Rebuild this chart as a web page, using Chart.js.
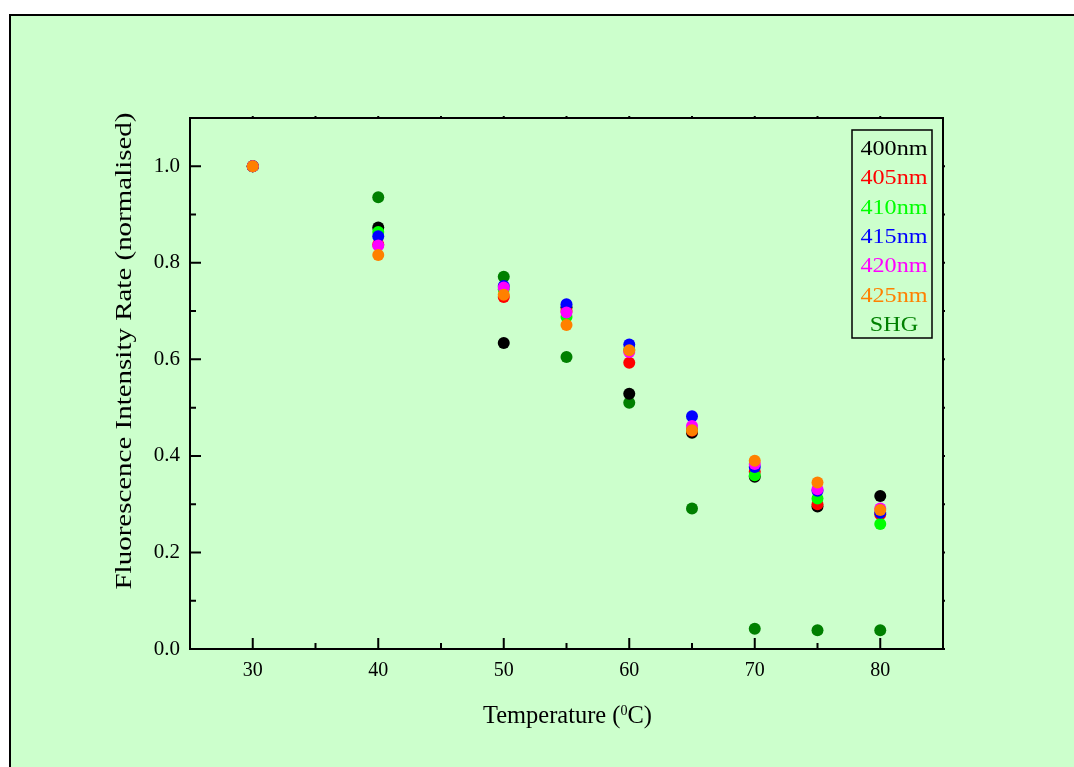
<!DOCTYPE html>
<html>
<head>
<meta charset="utf-8">
<script src="https://cdn.jsdelivr.net/npm/chart.js@4/dist/chart.umd.min.js"></script>
<style>
  html, body { margin: 0; padding: 0; background: #ffffff; }
  canvas { display: block; }
</style>
</head>
<body>
<canvas id="c" width="1074" height="767"></canvas>
<script>
// ---- data ----
const temperatures = [30, 40, 50, 55, 60, 65, 70, 75, 80];
const nm400 = [1.000, 0.873, 0.634, 0.708, 0.529, 0.448, 0.357, 0.295, 0.317];
const nm405 = [1.000, 0.838, 0.729, 0.700, 0.593, 0.452, 0.367, 0.300, 0.279];
const nm410 = [1.000, 0.864, 0.745, 0.688, 0.620, 0.455, 0.360, 0.312, 0.259];
const nm415 = [1.000, 0.855, 0.752, 0.714, 0.631, 0.482, 0.377, 0.328, 0.282];
const nm420 = [1.000, 0.836, 0.749, 0.697, 0.615, 0.462, 0.383, 0.331, 0.291];
const nm425 = [1.000, 0.816, 0.734, 0.671, 0.619, 0.453, 0.390, 0.345, 0.288];
const shg   = [1.000, 0.936, 0.771, 0.605, 0.510, 0.291, 0.042, 0.039, 0.039];
const seriesLabels = ['400nm', '405nm', '410nm', '415nm', '420nm', '425nm', 'SHG'];
const seriesColors = ['#000000', '#ff0000', '#00ff00', '#0000ff', '#ff00ff', '#ff8000', '#008000'];
const xTickValues = [30, 40, 50, 60, 70, 80];
const xMinorTicks = [35, 45, 55, 65, 75];
const yTickValues = [0.0, 0.2, 0.4, 0.6, 0.8, 1.0];
const yMinorTicks = [0.1, 0.3, 0.5, 0.7, 0.9];
const xTitle = ['Temperature (', '0', 'C)'];
const yTitle = 'Fluorescence Intensity Rate (normalised)';

const seriesValues = [nm400, nm405, nm410, nm415, nm420, nm425, shg];
// draw order: 425nm on top, SHG at the bottom
const drawOrder = [5, 4, 3, 2, 1, 0, 6];

const datasets = seriesValues.map((vals, i) => ({
  label: seriesLabels[i],
  data: temperatures.map((t, j) => ({ x: t, y: vals[j] })),
  backgroundColor: seriesColors[i],
  borderColor: seriesColors[i],
  borderWidth: 0,
  pointRadius: 6,
  pointHoverRadius: 6,
  showLine: false,
  order: drawOrder[i]
}));

const SERIF = '"Liberation Serif", "Times New Roman", "DejaVu Serif", serif';

const decor = {
  id: 'decor',
  beforeDraw(chart) {
    const ctx = chart.ctx;
    ctx.save();
    ctx.fillStyle = '#ffffff';
    ctx.fillRect(0, 0, chart.width, chart.height);
    ctx.fillStyle = '#ccffcc';
    ctx.fillRect(10, 15, chart.width - 10, chart.height - 15);
    ctx.strokeStyle = '#000000';
    ctx.lineWidth = 2;
    ctx.beginPath();
    ctx.moveTo(10, chart.height);
    ctx.lineTo(10, 15);
    ctx.lineTo(chart.width, 15);
    ctx.stroke();
    ctx.restore();
  },
  beforeDatasetsDraw(chart) {
    const ctx = chart.ctx;
    const a = chart.chartArea;
    const xs = chart.scales.x, ys = chart.scales.y;
    ctx.save();
    ctx.strokeStyle = '#000000';
    ctx.lineWidth = 2;
    ctx.strokeRect(a.left, a.top, a.right - a.left, a.bottom - a.top);
    ctx.beginPath();
    xTickValues.forEach(v => { const p = xs.getPixelForValue(v); ctx.moveTo(p, a.bottom); ctx.lineTo(p, a.bottom - 11);
      ctx.moveTo(p, a.top); ctx.lineTo(p, a.top - 2); });
    xMinorTicks.forEach(v => { const p = xs.getPixelForValue(v); ctx.moveTo(p, a.bottom); ctx.lineTo(p, a.bottom - 6);
      ctx.moveTo(p, a.top); ctx.lineTo(p, a.top - 2); });
    yTickValues.forEach(v => { const p = ys.getPixelForValue(v); ctx.moveTo(a.left, p); ctx.lineTo(a.left + 11, p);
      ctx.moveTo(a.right, p); ctx.lineTo(a.right + 2, p); });
    yMinorTicks.forEach(v => { const p = ys.getPixelForValue(v); ctx.moveTo(a.left, p); ctx.lineTo(a.left + 6, p);
      ctx.moveTo(a.right, p); ctx.lineTo(a.right + 2, p); });
    ctx.stroke();
    ctx.restore();
  },
  afterDraw(chart) {
    const ctx = chart.ctx;
    const a = chart.chartArea;
    ctx.save();
    ctx.fillStyle = '#000000';
    // y axis title, rotated and fitted to its length
    ctx.font = '23px ' + SERIF;
    const yw = ctx.measureText(yTitle).width;
    ctx.translate(125, 351);
    ctx.rotate(-Math.PI / 2);
    ctx.scale(477 / yw, 1);
    ctx.textAlign = 'center';
    ctx.textBaseline = 'middle';
    ctx.fillText(yTitle, 0, 0);
    ctx.restore();

    // x axis title with superscript
    ctx.save();
    ctx.fillStyle = '#000000';
    ctx.textBaseline = 'alphabetic';
    ctx.textAlign = 'left';
    const big = '26px ' + SERIF, small = '15px ' + SERIF;
    ctx.font = big; const w1 = ctx.measureText(xTitle[0]).width;
    ctx.font = small; const w2 = ctx.measureText(xTitle[1]).width;
    ctx.font = big; const w3 = ctx.measureText(xTitle[2]).width;
    const total = w1 + w2 + w3;
    const sx = 169 / total;
    ctx.translate(567.5, 723);
    ctx.scale(sx, 1);
    let x0 = -total / 2;
    ctx.font = big; ctx.fillText(xTitle[0], x0, 0);
    ctx.font = small; ctx.fillText(xTitle[1], x0 + w1, -8);
    ctx.font = big; ctx.fillText(xTitle[2], x0 + w1 + w2, 0);
    ctx.restore();

    // legend box
    ctx.save();
    ctx.strokeStyle = '#000000';
    ctx.lineWidth = 1.5;
    ctx.strokeRect(852, 130, 80, 208);
    ctx.font = '21px ' + SERIF;
    ctx.textAlign = 'center';
    ctx.textBaseline = 'alphabetic';
    chart.data.datasets.forEach((ds, i) => {
      ctx.save();
      ctx.fillStyle = ds.backgroundColor;
      ctx.translate(894, 155 + i * 29.3);
      ctx.scale(1.15, 1);
      ctx.fillText(ds.label, 0, 0);
      ctx.restore();
    });
    ctx.restore();
  }
};

new Chart(document.getElementById('c'), {
  type: 'scatter',
  data: { datasets },
  options: {
    responsive: false,
    animation: false,
    events: [],
    layout: { padding: { left: 0, top: 118, right: 131, bottom: 0 } },
    plugins: { legend: { display: false }, tooltip: { enabled: false } },
    scales: {
      x: {
        type: 'linear', position: 'bottom', min: 25, max: 85,
        grid: { display: false, drawTicks: false },
        border: { display: false },
        afterBuildTicks: s => { s.ticks = xTickValues.map(v => ({ value: v })); },
        afterFit: s => { s.height = 118; },
        ticks: { color: '#000000', padding: 10, maxRotation: 0, autoSkip: false,
          font: { family: SERIF, size: 20 }, callback: v => String(v) }
      },
      y: {
        type: 'linear', position: 'left', min: 0, max: 1.1,
        grid: { display: false, drawTicks: false },
        border: { display: false },
        afterBuildTicks: s => { s.ticks = yTickValues.map(v => ({ value: v })); },
        afterFit: s => { s.width = 190; },
        ticks: { color: '#000000', padding: 10, autoSkip: false,
          font: { family: SERIF, size: 21 }, callback: v => Number(v).toFixed(1) }
      }
    }
  },
  plugins: [decor]
});
</script>
</body>
</html>
